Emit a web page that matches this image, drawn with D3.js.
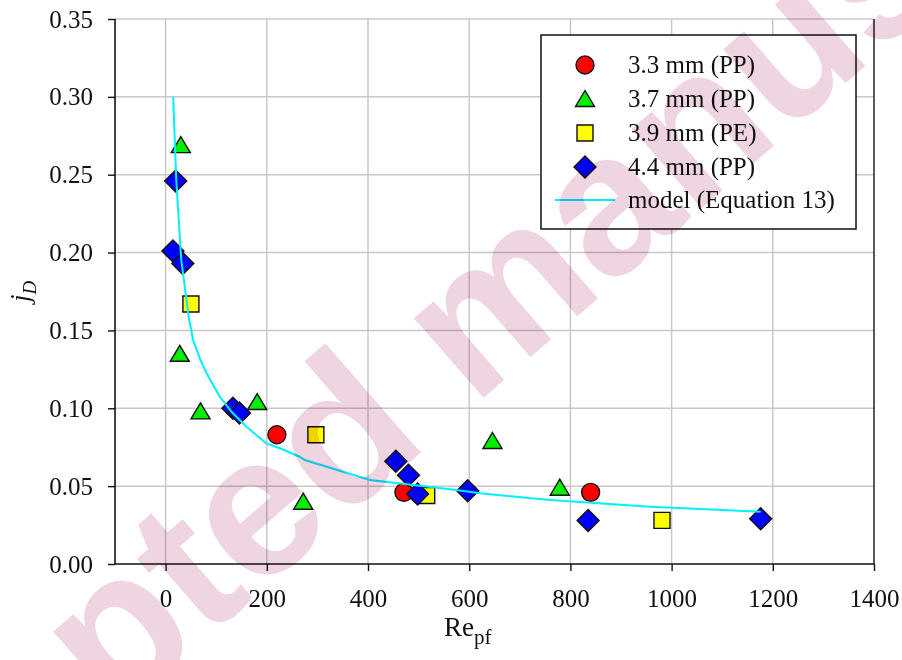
<!DOCTYPE html>
<html>
<head>
<meta charset="utf-8">
<style>
  body { margin: 0; background: #fff; }
  svg { display: block; }
  .tick text { font-family: "Liberation Serif", "Times New Roman", serif; font-size: 25px; fill: #111; }
  .wm { mix-blend-mode: multiply; }
</style>
</head>
<body>
<svg id="chart"></svg>
<script src="https://cdn.jsdelivr.net/npm/d3@7"></script>
<script>
// series labels
const seriesNames = ["3.3 mm (PP)", "3.7 mm (PP)", "3.9 mm (PE)", "4.4 mm (PP)"];
const modelName = "model (Equation 13)";

const re33 = [220, 471, 840];
const jd33 = [0.083, 0.046, 0.046];
const re37 = [30, 28, 69, 181, 272, 646, 779];
const jd37 = [0.269, 0.135, 0.098, 0.104, 0.040, 0.079, 0.049];
const re39 = [50, 297, 516, 981];
const jd39 = [0.167, 0.083, 0.044, 0.028];
const re44 = [20, 14.5, 34, 133, 146, 455, 480, 498, 597, 835, 1176];
const jd44 = [0.246, 0.201, 0.193, 0.100, 0.097, 0.066, 0.057, 0.045, 0.047, 0.028, 0.029];

// model curve
const modelRe = [15, 21, 31, 46, 51, 54, 69, 81, 107, 133, 160, 199, 226, 265, 275, 404, 490, 562, 622, 760, 958, 1176];
const modelJd = [0.300, 0.247, 0.195, 0.158, 0.150, 0.144, 0.131, 0.1225, 0.1075, 0.0968, 0.0882, 0.0775, 0.0743, 0.0689, 0.0668, 0.054, 0.0507, 0.048, 0.0454, 0.0411, 0.0368, 0.0336];

// ticks
const xTicks = [0, 200, 400, 600, 800, 1000, 1200, 1400];
const yTicks = [0, 0.05, 0.10, 0.15, 0.20, 0.25, 0.30, 0.35];

const W = 902, H = 660;
const pl = 115, pr = 874, pt = 19, pb = 564;

const svg = d3.select('#chart').attr('width', W).attr('height', H);

const x = d3.scaleLinear().domain([-100, 1400]).range([pl, pr]);
const y = d3.scaleLinear().domain([0, 0.35]).range([pb, pt]);

// grid
const grid = svg.append('g');
grid.selectAll('.vg').data(xTicks.filter(d => d < 1400)).enter().append('line')
    .attr('x1', d => x(d)).attr('x2', d => x(d))
    .attr('y1', pt).attr('y2', pb)
    .style('stroke', '#c8c8c8').style('stroke-width', 1.5);
grid.selectAll('.hg').data(yTicks.filter(d => d > 0)).enter().append('line')
    .attr('x1', pl).attr('x2', pr)
    .attr('y1', d => y(d)).attr('y2', d => y(d))
    .style('stroke', '#c8c8c8').style('stroke-width', 1.5);

// right frame line
svg.append('line')
    .attr('x1', pr).attr('x2', pr).attr('y1', pt).attr('y2', pb)
    .style('stroke', '#222').style('stroke-width', 1.5);

// axes
const xAxis = svg.append('g')
    .attr('transform', `translate(0,${pb})`)
    .call(d3.axisBottom(x).tickValues(xTicks).tickFormat(d3.format('d')).tickSize(7).tickPadding(18));
const yAxis = svg.append('g')
    .attr('transform', `translate(${pl},0)`)
    .call(d3.axisLeft(y).tickValues(yTicks).tickFormat(d3.format('.2f')).tickSize(7).tickPadding(15));
[xAxis, yAxis].forEach(a => {
    a.select('.domain').style('stroke', '#111').style('stroke-width', 1.6);
    a.selectAll('.tick line').style('stroke', '#111').style('stroke-width', 1.4);
});
xAxis.select('.domain').attr('d', `M${pl},0H${pr}`);
yAxis.select('.domain').attr('d', `M0,${pt}V${pb}`);

// axis titles
svg.append('text')
    .attr('x', 444).attr('y', 636)
    .style('font-family', '"Liberation Serif", serif').style('font-size', '27px').style('fill', '#111')
    .text('Re')
    .append('tspan').attr('dy', 8).style('font-size', '21px').text('pf');

svg.append('text')
    .attr('transform', 'translate(29,302) rotate(-90)')
    .style('font-family', '"Liberation Serif", serif').style('font-size', '27px')
    .style('font-style', 'italic').style('fill', '#111')
    .text('j')
    .append('tspan').attr('dy', 7).style('font-size', '19px').text('D');

// marker shapes
const shapes = {
    circle: 'M9,0A9,9 0 1,1 -9,0A9,9 0 1,1 9,0Z',
    triangle: 'M0,-8.5L9.5,7.5L-9.5,7.5Z',
    square: 'M-8,-8H8V8H-8Z',
    diamond: 'M0,-11L11,0L0,11L-11,0Z'
};
const series = [
    { name: seriesNames[0], re: re33, jd: jd33, shape: 'circle', fill: '#ff0000' },
    { name: seriesNames[1], re: re37, jd: jd37, shape: 'triangle', fill: '#00ee00' },
    { name: seriesNames[2], re: re39, jd: jd39, shape: 'square', fill: '#ffff00' },
    { name: seriesNames[3], re: re44, jd: jd44, shape: 'diamond', fill: '#0000ff' }
];

const marks = svg.append('g');
series.forEach(s => {
    marks.append('g').selectAll('path')
        .data(s.re.map((r, i) => [r, s.jd[i]]))
        .enter().append('path')
        .attr('d', shapes[s.shape])
        .attr('transform', d => `translate(${x(d[0])},${y(d[1])})`)
        .style('fill', s.fill).style('stroke', '#111').style('stroke-width', 1.4);
});

// model line
const line = d3.line().x(d => x(d[0])).y(d => y(d[1]));
svg.append('path')
    .datum(modelRe.map((r, i) => [r, modelJd[i]]))
    .attr('d', line)
    .style('fill', 'none').style('stroke', '#00f0ff').style('stroke-width', 2);

// legend
const lg = svg.append('g');
lg.append('rect')
    .attr('x', 541).attr('y', 35).attr('width', 315).attr('height', 194)
    .style('fill', '#fff').style('stroke', '#111').style('stroke-width', 1.5);
series.forEach((s, i) => {
    const cy = 65 + i * 34;
    lg.append('path').attr('d', shapes[s.shape])
        .attr('transform', `translate(585,${cy})`)
        .style('fill', s.fill).style('stroke', '#111').style('stroke-width', 1.4);
    lg.append('text').attr('x', 628).attr('y', cy + 8)
        .style('font-family', '"Liberation Serif", serif').style('font-size', '25px').style('fill', '#111')
        .text(s.name);
});
lg.append('line').attr('x1', 555).attr('x2', 615).attr('y1', 200).attr('y2', 200)
    .style('stroke', '#00f0ff').style('stroke-width', 2);
lg.append('text').attr('x', 628).attr('y', 208)
    .style('font-family', '"Liberation Serif", serif').style('font-size', '25px').style('fill', '#111')
    .text(modelName);

// watermark
svg.append('text')
    .attr('class', 'wm')
    .attr('transform', 'translate(519,367) rotate(-41)')
    .attr('text-anchor', 'middle')
    .style('font-family', '"Liberation Sans", Arial, sans-serif').style('font-weight', 'bold')
    .style('font-size', '200px').style('fill', '#efd4e1')
    .text('Accepted manuscript');
</script>
</body>
</html>
